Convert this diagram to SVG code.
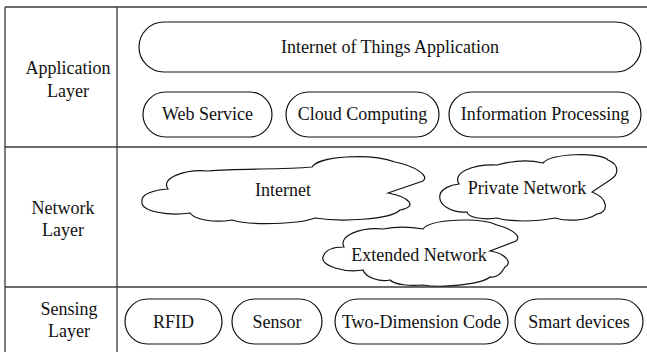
<svg xmlns="http://www.w3.org/2000/svg" width="647" height="352" viewBox="0 0 647 352" font-family="'Liberation Serif', 'Times New Roman', 'DejaVu Serif', serif">
<style>
.grid{stroke:#3a3a3a;stroke-width:1.3;fill:none}
.pill{fill:#fff;stroke:#111;stroke-width:1.2}
.cloud{fill:#fff;stroke:#111;stroke-width:1.2;stroke-linejoin:miter}
.t{font-family:'Liberation Serif','Times New Roman','DejaVu Serif',serif;font-size:18px;fill:#111;text-anchor:middle}
</style>
<rect width="647" height="352" fill="#fff"/>
<g id="grid">
<line class="grid" x1="5" y1="7" x2="647" y2="7"/>
<line class="grid" x1="5" y1="147" x2="647" y2="147"/>
<line class="grid" x1="5" y1="287" x2="647" y2="287"/>
<line class="grid" x1="5" y1="7" x2="5" y2="352"/>
<line class="grid" x1="117" y1="7" x2="117" y2="352"/>
</g>
<g id="label-application">
<text class="t" x="68" y="74">Application</text>
<text class="t" x="68" y="97">Layer</text>
</g>
<g id="label-network">
<text class="t" x="63" y="214">Network</text>
<text class="t" x="63" y="236">Layer</text>
</g>
<g id="label-sensing">
<text class="t" x="69" y="315">Sensing</text>
<text class="t" x="69" y="337">Layer</text>
</g>
<g id="iot-application">
<rect class="pill" x="139" y="22" width="502" height="50" rx="25"/>
<text class="t" x="390" y="53">Internet of Things Application</text>
</g>
<g id="web-service">
<rect class="pill" x="143" y="92" width="129" height="45" rx="22.5"/>
<text class="t" x="207.5" y="120">Web Service</text>
</g>
<g id="cloud-computing">
<rect class="pill" x="286" y="92" width="153" height="45" rx="22.5"/>
<text class="t" x="362.5" y="120">Cloud Computing</text>
</g>
<g id="information-processing">
<rect class="pill" x="449" y="92" width="192" height="45" rx="22.5"/>
<text class="t" x="545" y="120">Information Processing</text>
</g>
<g id="internet">
<path class="cloud" d="M142,201 C141,194 154,190 168,189 C160,178 185,169 208,171 C240,168 280,170 312,167 C318,156 370,153 395,162 C415,166 430,176 423,181 L388,193 C410,197 418,207 400,210 C390,220 340,222 315,218 C300,224 250,226 232,220 C215,223 195,220 190,213 C170,216 140,212 142,201 Z"/>
<text class="t" x="283" y="196">Internet</text>
</g>
<g id="private-network">
<path class="cloud" d="M440,195 C441,189 450,185 459,184 C452,173 472,164 497,165 C515,160 530,160 543,163 C552,153 600,152 608,160 C620,165 619,175 610,180 L592,192 C610,199 608,213 597,214 C585,222 565,221 555,218 C535,222 510,222 497,218 C485,220 468,218 467,212 C450,213 438,204 440,195 Z"/>
<text class="t" x="527" y="194">Private Network</text>
</g>
<g id="extended-network">
<path class="cloud" d="M323,257 C325,250 334,247 344,247 C338,236 360,227 383,229 C398,226 412,227 423,229 C430,219 480,217 497,225 C512,229 522,236 516,241 L490,251 C508,254 512,264 505,267 C500,276 495,278 490,277 C480,285 440,288 423,285 C410,286 395,285 390,280 C380,282 366,278 363,270 C345,273 320,266 323,257 Z"/>
<text class="t" x="419" y="261">Extended Network</text>
</g>
<g id="rfid">
<rect class="pill" x="125" y="299" width="97" height="45" rx="22.5"/>
<text class="t" x="173.5" y="328">RFID</text>
</g>
<g id="sensor">
<rect class="pill" x="232" y="299" width="90" height="45" rx="22.5"/>
<text class="t" x="277" y="328">Sensor</text>
</g>
<g id="two-dimension-code">
<rect class="pill" x="335" y="299" width="173" height="45" rx="22.5"/>
<text class="t" x="421.5" y="328">Two-Dimension Code</text>
</g>
<g id="smart-devices">
<rect class="pill" x="515" y="299" width="128" height="45" rx="22.5"/>
<text class="t" x="579" y="328">Smart devices</text>
</g>
</svg>
